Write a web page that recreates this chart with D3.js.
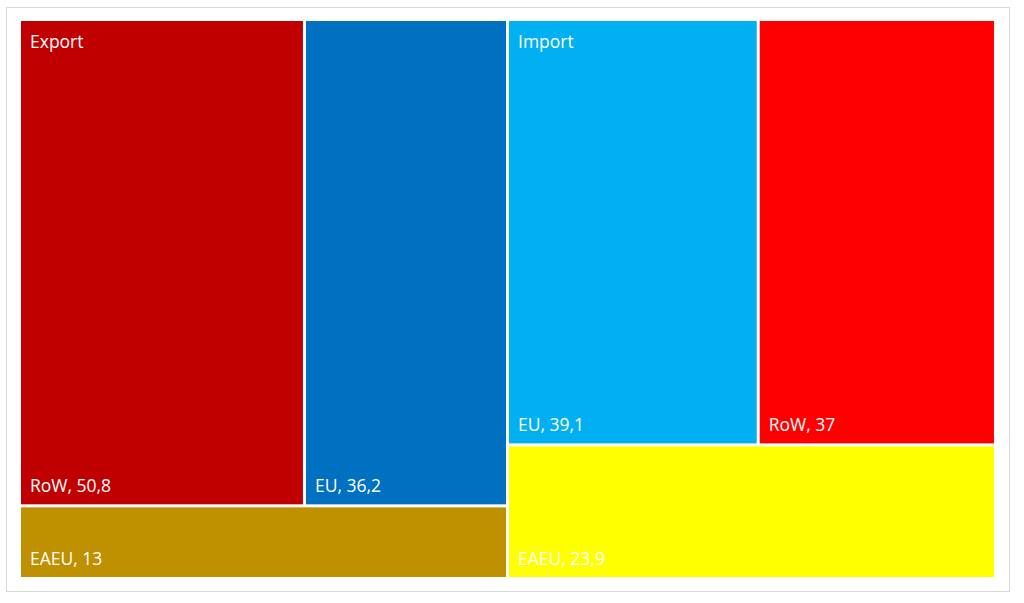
<!DOCTYPE html>
<html>
<head>
<meta charset="utf-8">
<script src="https://cdn.jsdelivr.net/npm/d3@7"></script>
<style>
  html, body { margin: 0; padding: 0; background: #fff; }
  svg { display: block; }
  text { font-family: "Open Sans", "Noto Sans", sans-serif; }
</style>
</head>
<body>
<svg id="chart" width="1024" height="603"></svg>
<script>
// ---- data ----
const groups = ["Export", "Import"];
const exportCategories = ["RoW", "EU", "EAEU"];
const exportValues = [50.8, 36.2, 13];
const importCategories = ["EU", "RoW", "EAEU"];
const importValues = [39.1, 37, 23.9];
const exportColors = ["#C00000", "#0070C0", "#BF9000"];
const importColors = ["#00B0F0", "#FF0000", "#FFFF00"];

// ---- layout ----
const W = 1024, H = 603;
const plot = { x: 21, y: 21, w: 973, h: 556 };
const svg = d3.select("#chart");

svg.append("rect")
  .attr("x", 6.5).attr("y", 7.5)
  .attr("width", 1003).attr("height", 584)
  .attr("fill", "#fff").attr("stroke", "#d9d9d9").attr("stroke-width", 1);

const data = {
  name: "root",
  children: [
    { name: groups[0], children: exportCategories.map((c, i) => ({ name: c, value: exportValues[i], color: exportColors[i] })) },
    { name: groups[1], children: importCategories.map((c, i) => ({ name: c, value: importValues[i], color: importColors[i] })) }
  ]
};

function tile(parent, x0, y0, x1, y1) {
  if (parent.depth === 0) { d3.treemapDice(parent, x0, y0, x1, y1); return; }
  const kids = parent.children;
  const top = kids.slice(0, 2), rest = kids.slice(2);
  const topSum = d3.sum(top, d => d.value);
  const ym = y0 + (y1 - y0) * topSum / parent.value;
  d3.treemapDice({ children: top, value: topSum }, x0, y0, x1, ym);
  if (rest.length) d3.treemapDice({ children: rest, value: parent.value - topSum }, x0, ym, x1, y1);
}

const root = d3.hierarchy(data).sum(d => d.value || 0);
d3.treemap().size([plot.w, plot.h]).paddingInner(3).tile(tile)(root);

const locale = d3.formatLocale({ decimal: ",", thousands: " ", grouping: [3], currency: ["", ""] });
const fmt = locale.format("~g");

const g = svg.append("g").attr("transform", `translate(${plot.x},${plot.y})`);

const leaves = g.selectAll("g.leaf").data(root.leaves()).join("g").attr("class", "leaf");
leaves.append("rect")
  .attr("x", d => d.x0).attr("y", d => d.y0)
  .attr("width", d => d.x1 - d.x0).attr("height", d => d.y1 - d.y0)
  .attr("fill", d => d.data.color);
leaves.append("text")
  .attr("x", d => d.x0 + 9).attr("y", d => d.y1 - 12)
  .attr("fill", "#fff").attr("font-size", 17.5)
  .text(d => `${d.data.name}, ${fmt(d.data.value)}`);

g.selectAll("text.group").data(root.children).join("text")
  .attr("class", "group")
  .attr("x", d => d.x0 + 9).attr("y", d => d.y0 + 27)
  .attr("fill", "#fff").attr("font-size", 17.5)
  .text(d => d.data.name);
</script>
</body>
</html>
